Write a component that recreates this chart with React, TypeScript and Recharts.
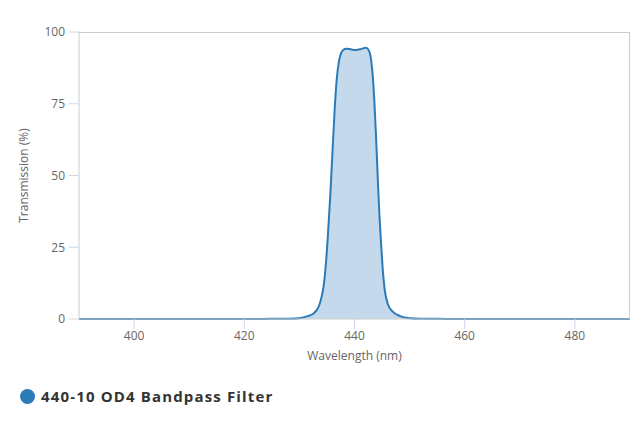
import { AreaChart, Area, XAxis, YAxis, CartesianGrid } from "recharts";

// ── Data ─────────────────────────────────────────────────────────────────────
const wavelengths = [
  390, 400, 410, 420, 425, 428, 430, 431.5, 432.5, 433.1, 433.6, 434.0, 434.4,
  434.8, 435.2, 435.6, 436.0, 436.4, 436.8, 437.2, 437.6, 438.0, 438.5, 439.3,
  440.1, 441.0, 442.1, 442.6, 443.0, 443.3, 443.6, 443.9, 444.2, 444.5, 444.8,
  445.1, 445.5, 446.0, 446.8, 448.3, 450, 452, 455, 460, 470, 480, 490,
];
const transmission = [
  0, 0, 0, 0, 0.05, 0.1, 0.3, 1, 1.8, 3, 4.8, 7.5, 11.5, 19, 30, 43, 58, 73, 84,
  90, 92.8, 93.8, 94.2, 94.0, 93.7, 94.0, 94.5, 93.6, 90.5, 85, 76, 64, 50, 37,
  27, 18, 10, 5.5, 2.8, 1, 0.3, 0.1, 0.05, 0, 0, 0, 0,
];
const xTicks = [400, 420, 440, 460, 480];
const yTicks = [0, 25, 50, 75, 100];
const seriesName = "440-10 OD4 Bandpass Filter";

const data = wavelengths.map((wl, i) => ({ wl, t: transmission[i] }));

const LINE = "#2b7bb9";
const FONT = "'Open Sans', sans-serif";

export default function App() {
  return (
    <div style={{ position: "fixed", left: 0, top: 0, width: 640, height: 427, background: "#fff" }}>
      <AreaChart
        width={640}
        height={427}
        data={data}
        margin={{ top: 32, right: 10, left: 0, bottom: 68 }}
      >
        <CartesianGrid horizontal={false} vertical={false} stroke="#ccc" />
        <XAxis
          dataKey="wl"
          type="number"
          domain={[390, 490]}
          ticks={xTicks}
          allowDataOverflow
          height={40}
          stroke="#ccc"
          tickLine={{ stroke: "#ccd6eb" }}
          tickSize={10}
          tickMargin={2}
          tick={{ fontSize: 12, fill: "#666", fontFamily: FONT }}
          label={{
            value: "Wavelength (nm)",
            position: "insideBottom",
            offset: -1,
            style: { fontSize: 12, fill: "#666", fontFamily: FONT },
          }}
        />
        <YAxis
          type="number"
          domain={[0, 100]}
          ticks={yTicks}
          width={79}
          stroke="#ccc"
          tickLine={{ stroke: "#ccd6eb" }}
          tickSize={10}
          tickMargin={4}
          tick={{ fontSize: 12, fill: "#666", fontFamily: FONT }}
          label={{
            value: "Transmission (%)",
            angle: -90,
            position: "insideLeft",
            offset: 24,
            style: { fontSize: 12, fill: "#666", fontFamily: FONT, textAnchor: "middle" },
          }}
        />
        <Area
          type="monotone"
          dataKey="t"
          stroke={LINE}
          strokeWidth={2}
          fill={LINE}
          fillOpacity={0.28}
          dot={false}
          activeDot={false}
          isAnimationActive={false}
        />
      </AreaChart>
      {/* plot border (top / right) */}
      <div
        style={{
          position: "absolute",
          left: 79,
          top: 32,
          width: 551,
          height: 287,
          borderTop: "1px solid #ccc",
          borderRight: "1px solid #ccc",
          boxSizing: "border-box",
          pointerEvents: "none",
        }}
      />
      <div
        style={{
          position: "absolute",
          left: 20,
          top: 386,
          display: "flex",
          alignItems: "center",
          fontFamily: FONT,
          fontWeight: 700,
          fontSize: 15,
          color: "#333",
          letterSpacing: 1.15,
        }}
      >
        <span
          style={{
            width: 15,
            height: 15,
            borderRadius: "50%",
            background: LINE,
            marginRight: 6,
            display: "inline-block",
          }}
        />
        {seriesName}
      </div>
    </div>
  );
}
